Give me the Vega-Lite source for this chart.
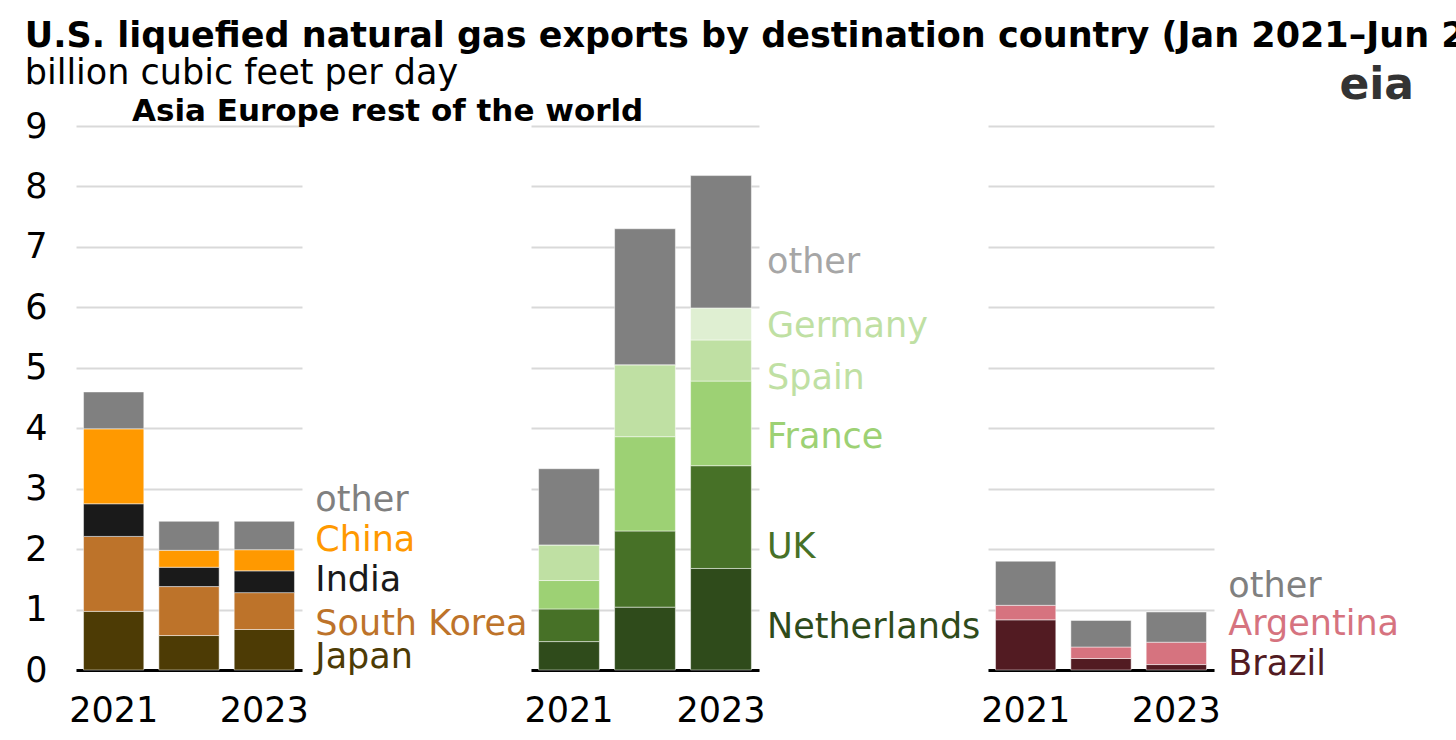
{
  "$schema": "https://vega.github.io/schema/vega-lite/v6.json",
  "padding": {"left": 24, "top": 19, "right": 0, "bottom": 0},
  "background": "white",
  "config": {
    "font": "DejaVu Sans",
    "view": {"stroke": null},
    "axis": {"labelFont": "DejaVu Sans", "labelColor": "black", "labelFontSize": 35, "ticks": false, "title": null}
  },
  "datasets": {
    "bars": [
      {"region": "Asia", "year": "2021", "country": "Japan", "value": 0.97},
      {"region": "Asia", "year": "2021", "country": "South Korea", "value": 1.24},
      {"region": "Asia", "year": "2021", "country": "India", "value": 0.54},
      {"region": "Asia", "year": "2021", "country": "China", "value": 1.24},
      {"region": "Asia", "year": "2021", "country": "other", "value": 0.61},
      {"region": "Asia", "year": "2022", "country": "Japan", "value": 0.57},
      {"region": "Asia", "year": "2022", "country": "South Korea", "value": 0.81},
      {"region": "Asia", "year": "2022", "country": "India", "value": 0.32},
      {"region": "Asia", "year": "2022", "country": "China", "value": 0.28},
      {"region": "Asia", "year": "2022", "country": "other", "value": 0.48},
      {"region": "Asia", "year": "2023", "country": "Japan", "value": 0.67},
      {"region": "Asia", "year": "2023", "country": "South Korea", "value": 0.61},
      {"region": "Asia", "year": "2023", "country": "India", "value": 0.36},
      {"region": "Asia", "year": "2023", "country": "China", "value": 0.35},
      {"region": "Asia", "year": "2023", "country": "other", "value": 0.47},
      {"region": "Europe", "year": "2021", "country": "Netherlands", "value": 0.47},
      {"region": "Europe", "year": "2021", "country": "UK", "value": 0.54},
      {"region": "Europe", "year": "2021", "country": "France", "value": 0.47},
      {"region": "Europe", "year": "2021", "country": "Spain", "value": 0.59},
      {"region": "Europe", "year": "2021", "country": "Germany", "value": 0},
      {"region": "Europe", "year": "2021", "country": "other", "value": 1.26},
      {"region": "Europe", "year": "2022", "country": "Netherlands", "value": 1.04},
      {"region": "Europe", "year": "2022", "country": "UK", "value": 1.26},
      {"region": "Europe", "year": "2022", "country": "France", "value": 1.56},
      {"region": "Europe", "year": "2022", "country": "Spain", "value": 1.19},
      {"region": "Europe", "year": "2022", "country": "Germany", "value": 0},
      {"region": "Europe", "year": "2022", "country": "other", "value": 2.25},
      {"region": "Europe", "year": "2023", "country": "Netherlands", "value": 1.68},
      {"region": "Europe", "year": "2023", "country": "UK", "value": 1.70},
      {"region": "Europe", "year": "2023", "country": "France", "value": 1.40},
      {"region": "Europe", "year": "2023", "country": "Spain", "value": 0.68},
      {"region": "Europe", "year": "2023", "country": "Germany", "value": 0.53},
      {"region": "Europe", "year": "2023", "country": "other", "value": 2.19},
      {"region": "rest of the world", "year": "2021", "country": "Brazil", "value": 0.83},
      {"region": "rest of the world", "year": "2021", "country": "Argentina", "value": 0.24},
      {"region": "rest of the world", "year": "2021", "country": "other", "value": 0.73},
      {"region": "rest of the world", "year": "2022", "country": "Brazil", "value": 0.19},
      {"region": "rest of the world", "year": "2022", "country": "Argentina", "value": 0.19},
      {"region": "rest of the world", "year": "2022", "country": "other", "value": 0.44},
      {"region": "rest of the world", "year": "2023", "country": "Brazil", "value": 0.09},
      {"region": "rest of the world", "year": "2023", "country": "Argentina", "value": 0.37},
      {"region": "rest of the world", "year": "2023", "country": "other", "value": 0.50}
    ],
    "labels": [
      {"region": "Asia", "year": "2023", "country": "other", "labelAt": 2.85},
      {"region": "Asia", "year": "2023", "country": "China", "labelAt": 2.19},
      {"region": "Asia", "year": "2023", "country": "India", "labelAt": 1.53},
      {"region": "Asia", "year": "2023", "country": "South Korea", "labelAt": 0.79},
      {"region": "Asia", "year": "2023", "country": "Japan", "labelAt": 0.24},
      {"region": "Europe", "year": "2023", "country": "other", "labelAt": 6.79},
      {"region": "Europe", "year": "2023", "country": "Germany", "labelAt": 5.73},
      {"region": "Europe", "year": "2023", "country": "Spain", "labelAt": 4.87},
      {"region": "Europe", "year": "2023", "country": "France", "labelAt": 3.88},
      {"region": "Europe", "year": "2023", "country": "UK", "labelAt": 2.07},
      {"region": "Europe", "year": "2023", "country": "Netherlands", "labelAt": 0.75},
      {"region": "rest of the world", "year": "2023", "country": "other", "labelAt": 1.42},
      {"region": "rest of the world", "year": "2023", "country": "Argentina", "labelAt": 0.79},
      {"region": "rest of the world", "year": "2023", "country": "Brazil", "labelAt": 0.13}
    ]
  },
  "hconcat": [
    {
      "width": 226,
      "height": 544,
      "title": {
        "text": "U.S. liquefied natural gas exports by destination country (Jan 2021\u2013Jun 2023)",
        "subtitle": "billion cubic feet per day",
        "anchor": "start",
        "frame": "bounds",
        "font": "DejaVu Sans",
        "fontSize": 35,
        "fontWeight": "bold",
        "color": "black",
        "subtitleFont": "DejaVu Sans",
        "subtitleFontSize": 35,
        "subtitleColor": "black",
        "subtitlePadding": 2,
        "offset": 18
      },
      "layer": [
        {
          "data": {"name": "bars"},
          "transform": [
            {"filter": "datum.region === 'Asia'"},
            {"calculate": "indexof(['Japan','South Korea','India','China','other'], datum.country)", "as": "ord"}
          ],
          "mark": {"type": "bar", "stroke": "white", "strokeWidth": 0.8, "strokeOpacity": 0.6},
          "encoding": {
            "x": {"field": "year", "type": "ordinal", "scale": {"paddingInner": 0.2, "paddingOuter": 0.1},
                  "axis": {"labelAngle": 0, "domainColor": "black", "domainWidth": 3, "labelPadding": 23, "labelExpr": "datum.value === '2022' ? '' : datum.label"}},
            "y": {"field": "value", "type": "quantitative", "stack": "zero", "scale": {"domain": [0, 9]},
                  "axis": {"values": [0,1,2,3,4,5,6,7,8,9], "format": "d", "domain": false, "gridColor": "#d9d9d9", "gridWidth": 2, "labelPadding": 29}},
            "color": {"field": "country", "type": "nominal", "legend": null,
                      "scale": {"domain": ["Japan","South Korea","India","China","other","Netherlands","UK","France","Spain","Germany","Brazil","Argentina"],
                                "range": ["#4d3b05","#bd732a","#1a1a1a","#ff9900","#808080","#2f4b1b","#477127","#9dd174","#bfe0a3","#dfefd2","#521b22","#d6737f"]}},
            "order": {"field": "ord", "type": "quantitative"}
          }
        },
        {
          "data": {"name": "labels"},
          "transform": [{"filter": "datum.region === 'Asia'"}],
          "mark": {"type": "text", "align": "left", "baseline": "middle", "dx": 51, "dy": 2, "fontSize": 35},
          "encoding": {
            "x": {"field": "year", "type": "ordinal"},
            "y": {"field": "labelAt", "type": "quantitative", "stack": null},
            "text": {"field": "country"},
            "color": {"field": "country", "type": "nominal", "legend": null}
          }
        }
      ]
    },
    {
      "width": 228,
      "height": 544,
      "title": {
        "text": "Asia Europe rest of the world",
        "anchor": "start",
        "frame": "bounds",
        "font": "DejaVu Sans",
        "fontSize": 31,
        "fontWeight": "bold",
        "color": "black",
        "dx": -392,
        "offset": -2
      },
      "layer": [
        {
          "data": {"name": "bars"},
          "transform": [
            {"filter": "datum.region === 'Europe'"},
            {"calculate": "indexof(['Netherlands','UK','France','Spain','Germany','other'], datum.country)", "as": "ord"}
          ],
          "mark": {"type": "bar", "stroke": "white", "strokeWidth": 0.8, "strokeOpacity": 0.6},
          "encoding": {
            "x": {"field": "year", "type": "ordinal", "scale": {"paddingInner": 0.2, "paddingOuter": 0.1},
                  "axis": {"labelAngle": 0, "domainColor": "black", "domainWidth": 3, "labelPadding": 23, "labelExpr": "datum.value === '2022' ? '' : datum.label"}},
            "y": {"field": "value", "type": "quantitative", "stack": "zero", "scale": {"domain": [0, 9]},
                  "axis": {"values": [0,1,2,3,4,5,6,7,8,9], "domain": false, "labels": false, "gridColor": "#d9d9d9", "gridWidth": 2}},
            "color": {"field": "country", "type": "nominal", "legend": null},
            "order": {"field": "ord", "type": "quantitative"}
          }
        },
        {
          "data": {"name": "labels"},
          "transform": [{"filter": "datum.region === 'Europe'"}],
          "mark": {"type": "text", "align": "left", "baseline": "middle", "dx": 46, "dy": 2, "fontSize": 35},
          "encoding": {
            "x": {"field": "year", "type": "ordinal"},
            "y": {"field": "labelAt", "type": "quantitative", "stack": null},
            "text": {"field": "country"},
            "color": {
              "condition": [
                {"test": "datum.country === 'other'", "value": "#a6a6a6"},
                {"test": "datum.country === 'Germany'", "value": "#bfe0a3"}
              ],
              "field": "country", "type": "nominal", "legend": null
            }
          }
        }
      ]
    },
    {
      "width": 226,
      "height": 544,
      "title": {
        "text": "eia",
        "anchor": "end",
        "frame": "group",
        "font": "DejaVu Sans",
        "fontSize": 44,
        "fontWeight": "bold",
        "color": "#333333",
        "dx": 200,
        "offset": 18
      },
      "layer": [
        {
          "data": {"name": "bars"},
          "transform": [
            {"filter": "datum.region === 'rest of the world'"},
            {"calculate": "indexof(['Brazil','Argentina','other'], datum.country)", "as": "ord"}
          ],
          "mark": {"type": "bar", "stroke": "white", "strokeWidth": 0.8, "strokeOpacity": 0.6},
          "encoding": {
            "x": {"field": "year", "type": "ordinal", "scale": {"paddingInner": 0.2, "paddingOuter": 0.1},
                  "axis": {"labelAngle": 0, "domainColor": "black", "domainWidth": 3, "labelPadding": 23, "labelExpr": "datum.value === '2022' ? '' : datum.label"}},
            "y": {"field": "value", "type": "quantitative", "stack": "zero", "scale": {"domain": [0, 9]},
                  "axis": {"values": [0,1,2,3,4,5,6,7,8,9], "domain": false, "labels": false, "gridColor": "#d9d9d9", "gridWidth": 2}},
            "color": {"field": "country", "type": "nominal", "legend": null},
            "order": {"field": "ord", "type": "quantitative"}
          }
        },
        {
          "data": {"name": "labels"},
          "transform": [{"filter": "datum.region === 'rest of the world'"}],
          "mark": {"type": "text", "align": "left", "baseline": "middle", "dx": 52, "dy": 2, "fontSize": 35},
          "encoding": {
            "x": {"field": "year", "type": "ordinal"},
            "y": {"field": "labelAt", "type": "quantitative", "stack": null},
            "text": {"field": "country"},
            "color": {"field": "country", "type": "nominal", "legend": null}
          }
        }
      ]
    }
  ],
  "spacing": 229,
  "bounds": "flush",
  "resolve": {"scale": {"color": "shared"}}
}
